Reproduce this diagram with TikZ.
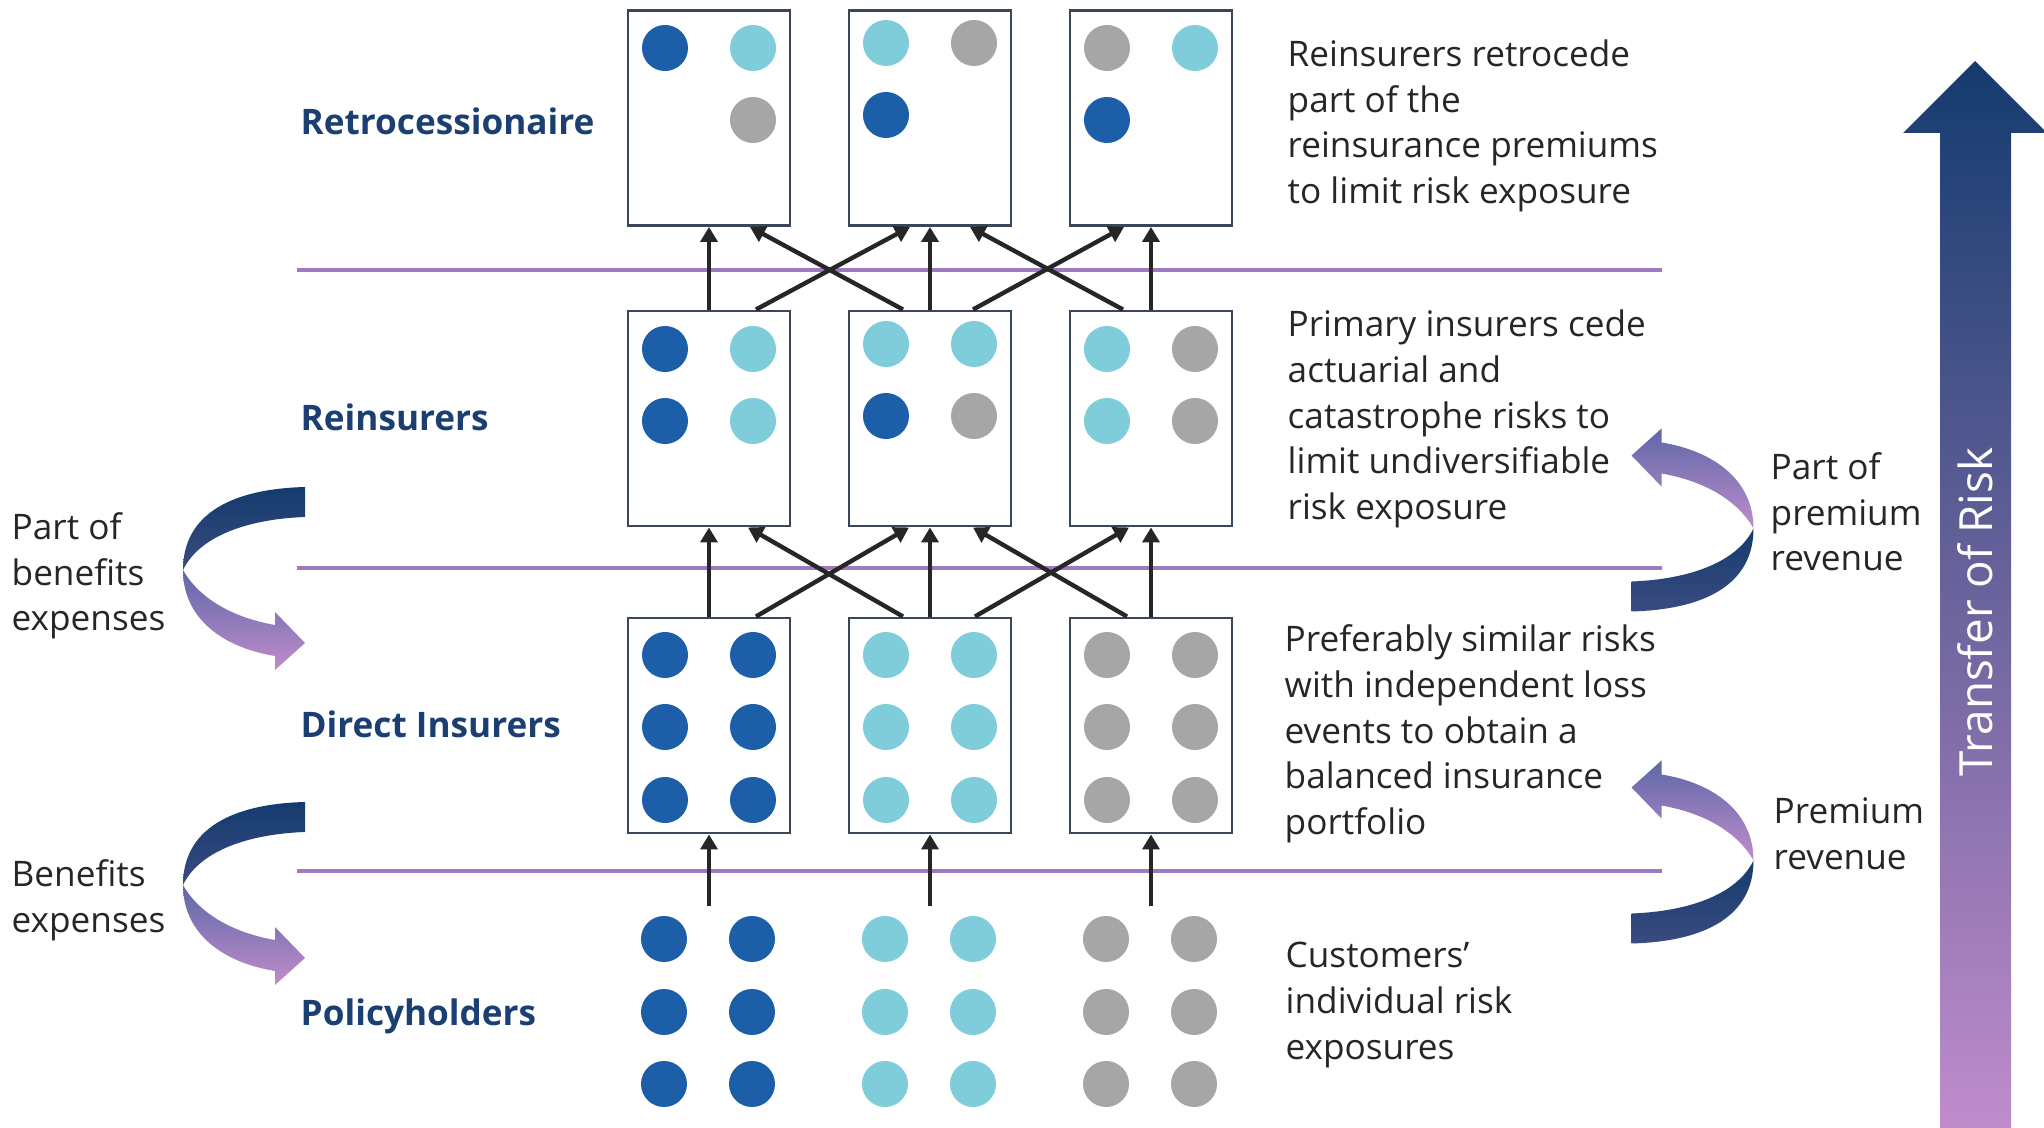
\documentclass[tikz,border=0pt]{standalone}
\usepackage{fontspec}
\setmainfont{Open Sans}
\usetikzlibrary{calc,arrows.meta}
\definecolor{dotdark}{HTML}{1C5FA8}
\definecolor{dotlight}{HTML}{7FCCDB}
\definecolor{dotgray}{HTML}{A6A6A6}
\definecolor{boxline}{HTML}{3A475B}
\definecolor{divline}{HTML}{9E7BBE}
\definecolor{navy}{HTML}{1B3F73}
\definecolor{txt}{HTML}{262626}
\definecolor{ribtop}{HTML}{143B6E}
\definecolor{ribmid}{HTML}{3A4B80}
\definecolor{ribtwist}{HTML}{5E68A8}
\definecolor{ribend}{HTML}{C08CCB}

\begin{document}
\begin{tikzpicture}[x=0.01cm,y=-0.01cm,
  pool/.style={draw=boxline,line width=0.8pt,fill=white,minimum width=1.62cm,minimum height=2.15cm,inner sep=0pt},
  flow/.style={line width=1.25pt,draw=txt,-{Triangle[length=0.15cm,width=0.17cm]}},
  divider/.style={divline,line width=1.4pt},
  tier/.style={anchor=west,inner sep=0pt,text=navy,font=\bfseries\fontsize{10}{13}\selectfont},
  remark/.style={anchor=west,inner sep=0pt,align=left,text=txt,font=\fontsize{10}{13}\selectfont}]
\useasboundingbox (0,0) rectangle (2044,1128);

% layer dividers
\foreach \y in {270,568,871}
  \draw[divider] (297,\y) -- (1662,\y);

% pools per layer
\node[pool] (r1) at (709,118) {};
\node[pool] (r2) at (930,118) {};
\node[pool] (r3) at (1151,118) {};
\node[pool] (s1) at (709,418.5) {};
\node[pool] (s2) at (930,418.5) {};
\node[pool] (s3) at (1151,418.5) {};
\node[pool] (d1) at (709,725.5) {};
\node[pool] (d2) at (930,725.5) {};
\node[pool] (d3) at (1151,725.5) {};

% risks
\foreach \x/\y/\col in {665/48/dotdark,753/48/dotlight,753/120/dotgray,
    886/43/dotlight,974/43/dotgray,886/115/dotdark,
    1107/48/dotgray,1195/48/dotlight,1107/120/dotdark}
  \fill[\col] (\x,\y) circle (0.23cm);
\foreach \x/\y/\col in {665/349/dotdark,753/349/dotlight,665/421/dotdark,753/421/dotlight,
    886/344/dotlight,974/344/dotlight,886/416/dotdark,974/416/dotgray,
    1107/349/dotlight,1195/349/dotgray,1107/421/dotlight,1195/421/dotgray}
  \fill[\col] (\x,\y) circle (0.23cm);
\foreach \cx/\col in {709/dotdark,930/dotlight,1151/dotgray}
  \foreach \dx in {-44,44}
    \foreach \y in {655,727,800}
      \fill[\col] (\cx+\dx,\y) circle (0.23cm);
\foreach \cx/\col in {708/dotdark,929/dotlight,1150/dotgray}
  \foreach \dx in {-44,44}
    \foreach \y in {939,1012,1084}
      \fill[\col] (\cx+\dx,\y) circle (0.23cm);

% transfers
\foreach \i in {1,2,3} {
  \draw[flow] (s\i.north) -- (r\i.south);
  \draw[flow] (d\i.north) -- (s\i.south);
  \coordinate (p\i) at ($(d\i.south)+(0,72)$);
  \draw[flow] (p\i) -- (d\i.south);
}
\draw[flow] ($(s1.north)+(47,0)$) -- ($(r2.south)+(-20,0)$);
\draw[flow] ($(s2.north)+(-27,0)$) -- ($(r1.south)+(41,0)$);
\draw[flow] ($(s2.north)+(43,0)$) -- ($(r3.south)+(-27,0)$);
\draw[flow] ($(s3.north)+(-28,0)$) -- ($(r2.south)+(40,0)$);
\draw[flow] ($(d1.north)+(47,0)$) -- ($(s2.south)+(-21,0)$);
\draw[flow] ($(d2.north)+(-27,0)$) -- ($(s1.south)+(39,0)$);
\draw[flow] ($(d2.north)+(45,0)$) -- ($(s3.south)+(-22,0)$);
\draw[flow] ($(d3.north)+(-24,0)$) -- ($(s2.south)+(43,0)$);

% layer names
\node[tier] (retro) at (300,121) {Retrocessionaire};
\node[tier] (reins) at (300,417) {Reinsurers};
\node[tier] (direct) at (300,724) {Direct Insurers};
\node[tier] (holders) at (300,1016) {Policyholders};

% descriptions
\node[remark] (retrotxt) at (1287,126) {Reinsurers retrocede\\part of the\\reinsurance premiums\\to limit risk exposure};
\node[remark] (reinstxt) at (1287,419) {Primary insurers cede\\actuarial and\\catastrophe risks to\\limit undiversifiable\\risk exposure};
\node[remark] (directtxt) at (1284,734) {Preferably similar risks\\with independent loss\\events to obtain a\\balanced insurance\\portfolio};
\node[remark] (holderstxt) at (1285,1005) {Customers’\\individual risk\\exposures};

% money flows
\node[remark] (benpart) at (11,576) {Part of\\benefits\\expenses};
\node[remark] (ben) at (11,900) {Benefits\\expenses};
\node[remark] (prempart) at (1770,512) {Part of\\premium\\revenue};
\node[remark] (prem) at (1773,834) {Premium\\revenue};

\foreach \sy in {0,315} {
  \begin{scope}[shift={(0,\sy)}]
    \shade[top color=ribtop,bottom color=ribmid] (305,487) .. controls (230,489) and (183,515) .. (183,570)
      .. controls (200,535) and (250,519) .. (305,517) -- cycle;
    \shade[top color=ribtwist,bottom color=ribend] (183,570) .. controls (200,600) and (235,618) .. (275,625)
      -- (275,612) -- (305,643) -- (275,670) -- (275,656) .. controls (225,648) and (183,620) .. (183,570) -- cycle;
  \end{scope}
}
\foreach \sy in {1098.5,1430.5} {
  \begin{scope}[shift={(1936.5,\sy)},rotate=180]
    \shade[top color=ribtop,bottom color=ribmid] (305,487) .. controls (230,489) and (183,515) .. (183,570)
      .. controls (200,535) and (250,519) .. (305,517) -- cycle;
    \shade[top color=ribtwist,bottom color=ribend] (183,570) .. controls (200,600) and (235,618) .. (275,625)
      -- (275,612) -- (305,643) -- (275,670) -- (275,656) .. controls (225,648) and (183,620) .. (183,570) -- cycle;
  \end{scope}
}

% risk transfer
\shade[top color=ribtop,middle color=ribtwist!90!black,bottom color=ribend]
  (1940,1128) -- (1940,133) -- (1903,133) -- (1975,61) -- (2047,133) -- (2011,133) -- (2011,1128) -- cycle;
\node[rotate=90,text=white,inner sep=0pt,font=\fontsize{13}{15}\selectfont] (risk) at (1975,612) {Transfer of Risk};
\end{tikzpicture}
\end{document}
